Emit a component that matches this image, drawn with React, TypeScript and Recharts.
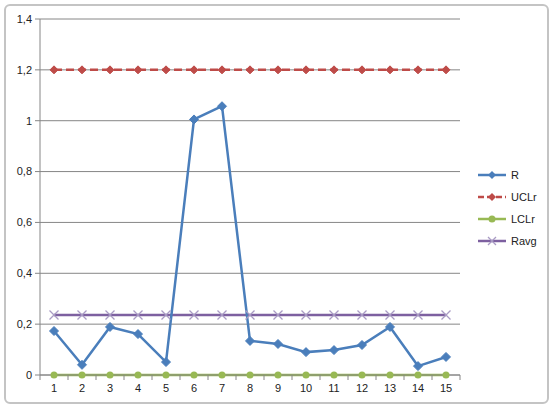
import React from "react";
import { LineChart, Line, XAxis, YAxis, CartesianGrid } from "recharts";

const categories = ["1", "2", "3", "4", "5", "6", "7", "8", "9", "10", "11", "12", "13", "14", "15"];
const rValues = [0.173, 0.04, 0.189, 0.161, 0.051, 1.005, 1.057, 0.134, 0.122, 0.09, 0.098, 0.118, 0.189, 0.035, 0.071];
const uclValues = [1.2, 1.2, 1.2, 1.2, 1.2, 1.2, 1.2, 1.2, 1.2, 1.2, 1.2, 1.2, 1.2, 1.2, 1.2];
const lclValues = [0, 0, 0, 0, 0, 0, 0, 0, 0, 0, 0, 0, 0, 0, 0];
const avgValues = [0.236, 0.236, 0.236, 0.236, 0.236, 0.236, 0.236, 0.236, 0.236, 0.236, 0.236, 0.236, 0.236, 0.236, 0.236];
const yTicks = [0, 0.2, 0.4, 0.6, 0.8, 1, 1.2, 1.4];

const BLUE = "#4a7ebb";
const RED = "#be4b48";
const GREEN = "#98b954";
const PURPLE = "#7d60a0";
const PURPLE_LIGHT = "#a99bc4";
const FONT = "'Liberation Sans', Arial, sans-serif";

const data = categories.map((c, i) => ({
  cat: c,
  R: rValues[i],
  UCLr: uclValues[i],
  LCLr: lclValues[i],
  Ravg: avgValues[i],
}));

const diamond = (color: string, s: number) => (props: any) => {
  const { cx, cy, index } = props;
  if (cx == null || cy == null) return <g key={index} />;
  return (
    <path
      key={index}
      d={`M${cx},${cy - s} L${cx + s},${cy} L${cx},${cy + s} L${cx - s},${cy} Z`}
      fill={color}
      stroke={color}
      strokeWidth={1}
    />
  );
};

const circle = (color: string, r: number) => (props: any) => {
  const { cx, cy, index } = props;
  if (cx == null || cy == null) return <g key={index} />;
  return <circle key={index} cx={cx} cy={cy} r={r} fill={color} />;
};

const cross = (color: string, s: number) => (props: any) => {
  const { cx, cy, index } = props;
  if (cx == null || cy == null) return <g key={index} />;
  return (
    <path
      key={index}
      d={`M${cx - s},${cy - s} L${cx + s},${cy + s} M${cx - s},${cy + s} L${cx + s},${cy - s}`}
      stroke={color}
      strokeWidth={1.3}
      fill="none"
    />
  );
};

const HALF = 14;

const XTick = (props: any) => {
  const { x, y, payload, index } = props;
  const last = index === categories.length - 1;
  return (
    <g>
      <line x1={x - HALF} y1={y - 8} x2={x - HALF} y2={y - 3} stroke="#868686" />
      {last && <line x1={x + HALF} y1={y - 8} x2={x + HALF} y2={y - 3} stroke="#868686" />}
      <text x={x} y={y + 9} textAnchor="middle" fontSize={11} fill="#222" fontFamily={FONT}>
        {payload.value}
      </text>
    </g>
  );
};

const legendItems = [
  { name: "R", color: BLUE, marker: "diamond", dash: undefined },
  { name: "UCLr", color: RED, marker: "diamond", dash: "6 3" },
  { name: "LCLr", color: GREEN, marker: "circle", dash: undefined },
  { name: "Ravg", color: PURPLE, marker: "cross", dash: undefined },
];

function LegendBox() {
  return (
    <div style={{ position: "absolute", left: 476, top: 164 }}>
      {legendItems.map((it) => (
        <div key={it.name} style={{ display: "flex", alignItems: "center", height: 22 }}>
          <svg width={32} height={12}>
            <line x1={2} y1={6} x2={30} y2={6} stroke={it.color} strokeWidth={2.5} strokeDasharray={it.dash} />
            {it.marker === "diamond" && <path d="M16,2 L20,6 L16,10 L12,6 Z" fill={it.color} />}
            {it.marker === "circle" && <circle cx={16} cy={6} r={3.5} fill={it.color} />}
            {it.marker === "cross" && (
              <path d="M12,2 L20,10 M12,10 L20,2" stroke={PURPLE_LIGHT} strokeWidth={1.3} />
            )}
          </svg>
          <span style={{ fontFamily: FONT, fontSize: 11, color: "#222", marginLeft: 3 }}>{it.name}</span>
        </div>
      ))}
    </div>
  );
}

export default function App() {
  return (
    <div style={{ position: "absolute", left: 0, top: 0, width: 557, height: 413, background: "#fff" }}>
      <div
        style={{
          position: "absolute",
          left: 4,
          top: 4,
          width: 545,
          height: 400,
          border: "2px solid #c4c4c4",
          borderRadius: 6,
          boxSizing: "border-box",
        }}
      />
      <div style={{ position: "absolute", left: 0, top: 0 }}>
        <LineChart width={557} height={413} data={data} margin={{ top: 19, right: 97, bottom: 8, left: 0 }}>
          <CartesianGrid vertical={false} stroke="#868686" strokeWidth={1} />
          <XAxis
            dataKey="cat"
            axisLine={{ stroke: "#868686" }}
            tickLine={false}
            tick={<XTick />}
            height={30}
            interval={0}
            padding={{ left: HALF, right: HALF }}
          />
          <YAxis
            domain={[0, 1.4]}
            ticks={yTicks}
            width={40}
            axisLine={{ stroke: "#868686" }}
            tickLine={{ stroke: "#868686" }}
            tickSize={5}
            tickMargin={3}
            tick={{ fontSize: 11, fill: "#222", fontFamily: FONT }}
            tickFormatter={(v: number) => String(Math.round(v * 10) / 10).replace(".", ",")}
          />
          <Line
            dataKey="LCLr"
            stroke={GREEN}
            strokeWidth={2.5}
            dot={circle(GREEN, 3.5)}
            isAnimationActive={false}
          />
          <Line
            dataKey="Ravg"
            stroke={PURPLE}
            strokeWidth={2.5}
            dot={cross(PURPLE_LIGHT, 4.5)}
            isAnimationActive={false}
          />
          <Line
            dataKey="UCLr"
            stroke={RED}
            strokeWidth={2.5}
            strokeDasharray="8 4"
            dot={diamond(RED, 4)}
            isAnimationActive={false}
          />
          <Line
            dataKey="R"
            stroke={BLUE}
            strokeWidth={2.5}
            dot={diamond(BLUE, 4.5)}
            isAnimationActive={false}
          />
        </LineChart>
      </div>
      <LegendBox />
    </div>
  );
}
